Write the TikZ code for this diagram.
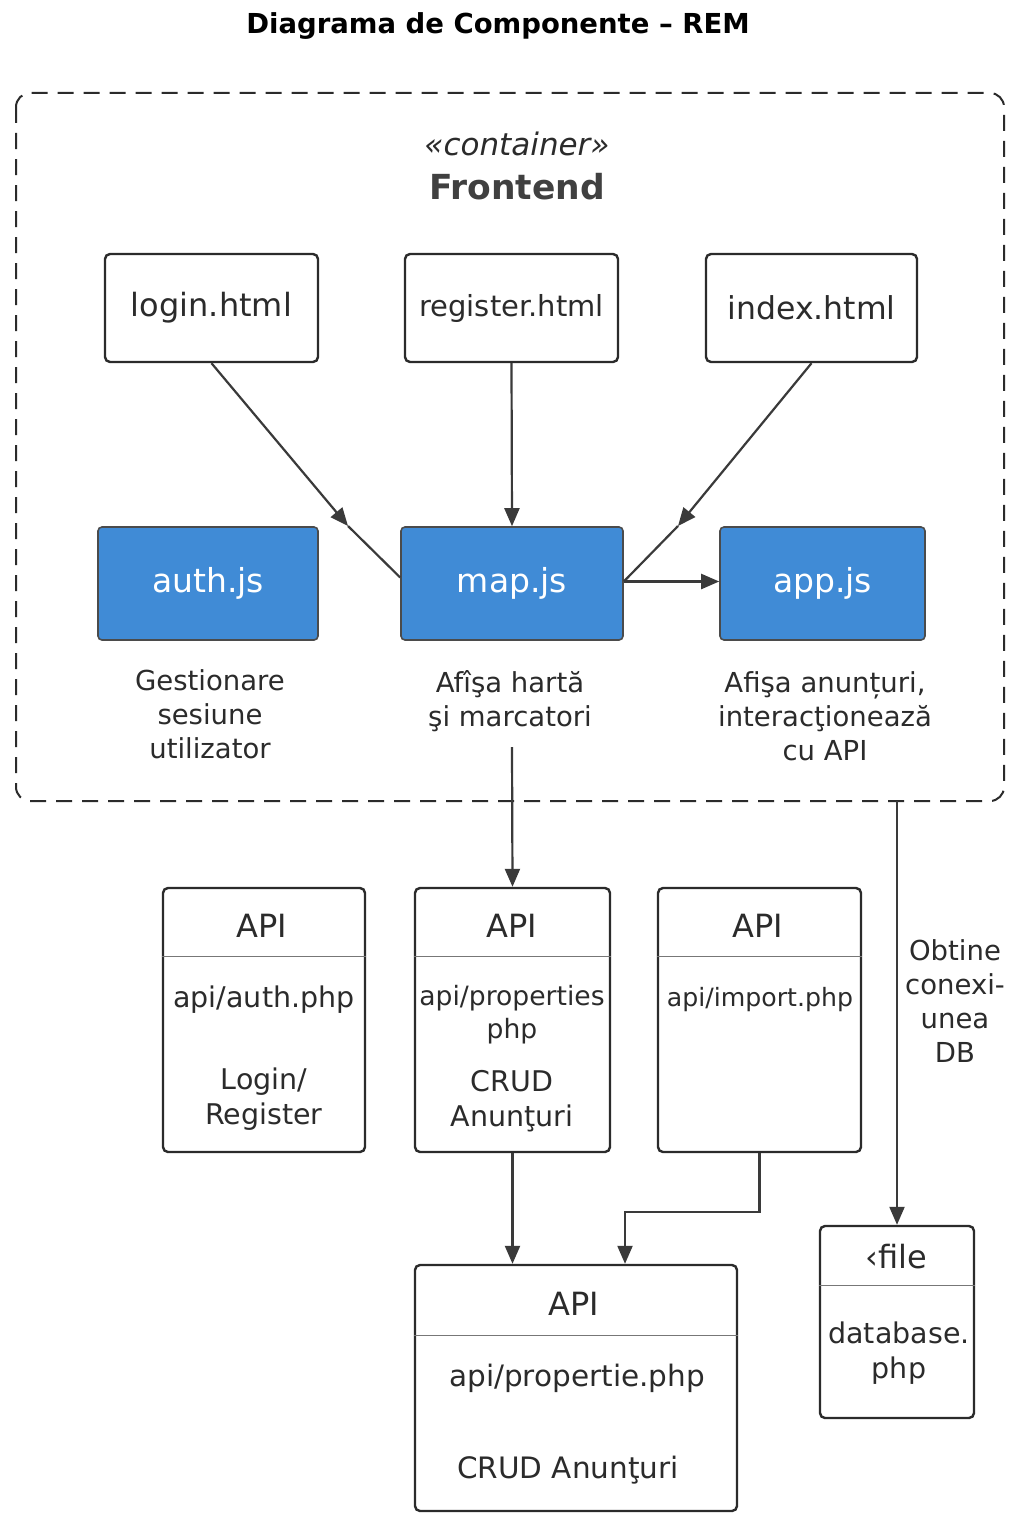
\documentclass[tikz,border=0pt]{standalone}
\usepackage{fontspec}
\setmainfont{DejaVu Sans}
\usetikzlibrary{arrows.meta}
\definecolor{ink}{HTML}{2B2B2B}
\definecolor{arrc}{HTML}{3A3A3A}
\definecolor{blu}{HTML}{408BD6}
\definecolor{divc}{HTML}{777777}
\newcommand{\fs}[1]{\fontsize{#1pt}{1.24\dimexpr #1pt\relax}\selectfont}
\begin{document}
\begin{tikzpicture}[x=1pt,y=-1pt,
  wbox/.style={draw=ink,line width=2.4pt,rounded corners=5pt,fill=white,inner sep=0pt,text=ink},
  bbox/.style={draw=ink!85,line width=1.6pt,rounded corners=4pt,fill=blu,inner sep=0pt,text=white},
  txt/.style={inner sep=0pt,text=ink,align=center},
  conn/.style={draw=arrc,line width=2.2pt},
  arr/.style={conn,-{Triangle[length=18pt,width=15pt]}},
  divl/.style={draw=divc,line width=1pt}]
\useasboundingbox (0,0) rectangle (1024,1536);
\fill[white] (0,0) rectangle (1024,1536);

% title
\node[txt,text=black,font=\bfseries\fs{27.5}] (title) at (498,26) {Diagrama de Componente – REM};

% container
\draw[draw=ink,line width=2pt,dash pattern=on 16pt off 10pt,rounded corners=14pt] (16,93) rectangle (1004,801);
\node[txt,font=\itshape\fs{31}] (stereo) at (517,144) {«container»};
\node[txt,text=ink!90,font=\bfseries\fs{34.5}] (front) at (517,187) {Frontend};

% html boxes
\node[wbox,minimum width=213pt,minimum height=108pt,font=\fs{32}] (login) at (211.5,308) {\raisebox{-2pt}{login.html}};
\node[wbox,minimum width=213pt,minimum height=108pt,font=\fs{29}] (register) at (511.5,308) {\raisebox{-2pt}{register.html}};
\node[wbox,minimum width=211pt,minimum height=108pt,font=\fs{31.5}] (index) at (811.5,308) {index.html};

% js boxes
\node[bbox,minimum width=220pt,minimum height=113pt,font=\fs{33}] (auth) at (208,583.5) {auth.js};
\node[bbox,minimum width=222pt,minimum height=113pt,font=\fs{33}] (map) at (512,583.5) {map.js};
\node[bbox,minimum width=205pt,minimum height=113pt,font=\fs{33}] (app) at (822.5,583.5) {app.js};

% descriptions
\node[txt,font=\fs{27.5}] (authd) at (210,714) {Gestionare\\sesiune\\utilizator};
\node[txt,font=\fs{27.5}] (mapd) at (510,701) {Afîşa hartă\\şi marcatori};
\node[txt,font=\fs{27.5}] (appd) at (825,716) {Afişa anunțuri,\\interacţionează\\cu API};

% frontend connectors
\coordinate (lk) at (348,526);
\coordinate (ik) at (678,526);
\draw[arr] (login.south) -- (lk);
\draw[conn] (lk) -- ([yshift=6pt]map.west);
\draw[arr] (index.south) -- (ik);
\draw[conn] (ik) -- ([yshift=2pt]map.east);
\draw[arr] (register.south) -- (map.north);
\draw[arr] ([yshift=2pt]map.east) -- ([yshift=2pt]app.west);

% API boxes
\node[wbox,minimum width=202pt,minimum height=264pt] (api1) at (264,1020) {};
\node[wbox,minimum width=195pt,minimum height=264pt] (api2) at (512.5,1020) {};
\node[wbox,minimum width=203pt,minimum height=264pt] (api3) at (759.5,1020) {};
\node[wbox,minimum width=322pt,minimum height=246pt] (apib) at (576,1388) {};
\node[wbox,minimum width=154pt,minimum height=192pt] (file) at (897,1322) {};

\draw[divl] (api1.west |- 0,956) -- (api1.east |- 0,956);
\draw[divl] (api2.west |- 0,956) -- (api2.east |- 0,956);
\draw[divl] (api3.west |- 0,956) -- (api3.east |- 0,956);
\draw[divl] (apib.west |- 0,1335) -- (apib.east |- 0,1335);
\draw[divl] (file.west |- 0,1285) -- (file.east |- 0,1285);

\node[txt,font=\fs{32}] (a1h) at (262,926) {API};
\node[txt,font=\fs{28.5}] (a1p) at (264,1000) {api/auth.php};
\node[txt,font=\fs{28.5}] (a1t) at (264,1099) {Login/\\Register};

\node[txt,font=\fs{32}] (a2h) at (512,926) {API};
\node[txt,font=\fs{26.6}] (a2p) at (512,1015) {api/properties\\php};
\node[txt,font=\fs{28.5}] (a2t) at (512,1101) {CRUD\\Anunţuri};

\node[txt,font=\fs{32}] (a3h) at (758,926) {API};
\node[txt,font=\fs{25.2}] (a3p) at (760,1000) {api/import.php};

\node[txt,font=\fs{32}] (abh) at (574,1304) {API};
\node[txt,font=\fs{29.5}] (abp) at (577,1378) {api/propertie.php};
\node[txt,font=\fs{29.5}] (abt) at (568,1470) {CRUD Anunţuri};

\node[txt,font=\fs{32}] (fh) at (896,1257) {‹file};
\node[txt,font=\fs{28.5}] (fp) at (899,1353) {database.\\php};

% lower connectors
\coordinate (ms) at (512,747);
\draw[arr] (ms) -- (api2.north);
\coordinate (cs) at (897,801);
\draw[arr] (cs) -- (file.north);
\node[txt,font=\fs{27.5}] (dbl) at (955,1001) {Obtine\\conexi-\\unea\\DB};
\draw[arr] (api2.south) -- (api2.south |- apib.north);
\draw[arr] (api3.south) -- ++(0,59) -| ([xshift=49pt]apib.north);
\end{tikzpicture}
\end{document}
